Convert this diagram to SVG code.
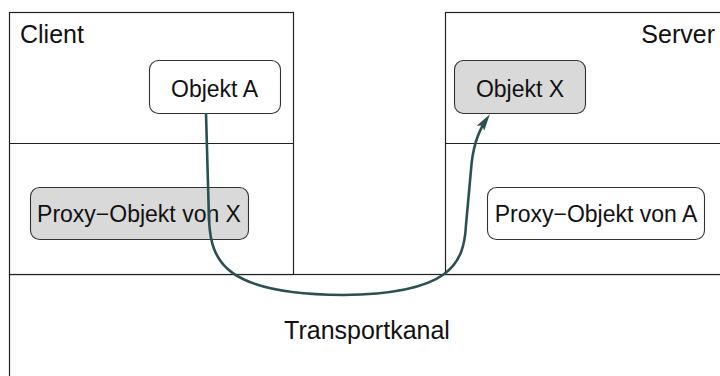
<svg xmlns="http://www.w3.org/2000/svg" width="720" height="376" viewBox="0 0 720 376">
<style>
.area{fill:#fff;stroke:#222;stroke-width:1.2}
.line{stroke:#222;stroke-width:1.2}
.obj{fill:#fff;stroke:#333;stroke-width:1.1}
.gray{fill:#d9d9d9}
.lbl{font-family:"Liberation Sans",Arial,sans-serif;font-size:25px;fill:#111}
.olbl{font-family:"Liberation Sans",Arial,sans-serif;font-size:23px;fill:#111;text-anchor:middle}
.conn{fill:none;stroke:#2b5050;stroke-width:2.6}
</style>
<defs>
<marker id="arr" markerUnits="userSpaceOnUse" markerWidth="20" markerHeight="12" viewBox="0 -6 18 12" refX="10" refY="0" orient="auto">
<path d="M0,-4.5 L17,0 L0,4.5 L3.5,0 z" fill="#2b5050"/>
</marker>
</defs>
<rect width="720" height="376" fill="#fff"/>
<g id="transport">
<rect class="area" x="9.5" y="274.5" width="720" height="120"/>
<text class="lbl" x="367" y="339" text-anchor="middle">Transportkanal</text>
</g>
<g id="client">
<rect class="area" x="9.5" y="12.5" width="284" height="262"/>
<line class="line" x1="9.5" y1="143.5" x2="293.5" y2="143.5"/>
<text class="lbl" x="20" y="43">Client</text>
</g>
<g id="server">
<rect class="area" x="445.5" y="12.5" width="290" height="262"/>
<line class="line" x1="445.5" y1="143.5" x2="720" y2="143.5"/>
<text class="lbl" x="715" y="43" text-anchor="end">Server</text>
</g>
<g id="objekt-a">
<rect class="obj" x="149.5" y="60.5" width="131" height="53" rx="9"/>
<text class="olbl" x="214.5" y="96.5">Objekt A</text>
</g>
<g id="objekt-x">
<rect class="obj gray" x="454.5" y="60.5" width="131" height="53" rx="9"/>
<text class="olbl" x="520" y="96.5">Objekt X</text>
</g>
<g id="proxy-x">
<rect class="obj gray" x="30.5" y="187.5" width="218" height="52" rx="9"/>
<text class="olbl" x="139" y="222">Proxy−Objekt von X</text>
</g>
<g id="proxy-a">
<rect class="obj" x="487.5" y="187.5" width="217" height="52" rx="9"/>
<text class="olbl" x="596" y="222">Proxy−Objekt von A</text>
</g>
<g id="connectors">
<path class="conn" marker-end="url(#arr)" d="M206,113 L209,220 C211,262 225,294 343,295 C450,294 464,264 466,225 L471,170 C472,155 476,135 486,120"/>
</g>
</svg>
